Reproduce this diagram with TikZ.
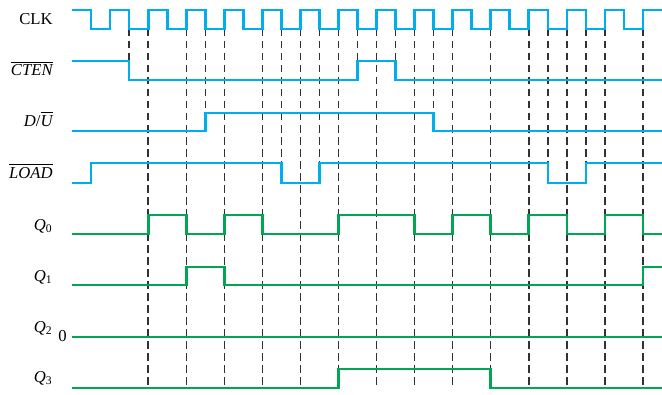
\documentclass[tikz,border=0pt]{standalone}
\usepackage{fontspec}
\setmainfont{Liberation Serif}
\usepackage{tikz}
\usetikzlibrary{calc}
\definecolor{sigblue}{RGB}{0,174,239}
\definecolor{siggreen}{RGB}{0,166,81}
\definecolor{tickgray}{RGB}{50,50,50}
\tikzset{
  ctrl/.style={sigblue, line width=1.65pt, line join=miter},
  cnt/.style={siggreen, line width=1.65pt, line join=miter},
  tick/.style={tickgray, line width=0.85pt, dash pattern=on 4.5pt off 2.7pt},
  lbl/.style={anchor=base east, inner sep=0pt, font=\fontsize{10}{12}\selectfont}
}

\begin{document}
\begin{tikzpicture}[x=11.421pt, y=0.6pt]
\useasboundingbox (-3.7825,0) rectangle (30.995,394);
% guides at the clock edges
\foreach \t in {4,6,...,30}
  \draw[tick] (\t,365) -- (\t,6);
\foreach \t/\lev in {3/333,15/333,17/333,7/281,19/281,11/231,13/231,25/231,27/231}
  \draw[tick] (\t,365) -- (\t,\lev);
% inputs
\draw[ctrl] (0,384) \foreach \k in {1,3,...,29} { -| (\k,365) -| (\k+1,384) } -- (31,384);
\draw[ctrl] (0,333) -| (3,314) -| (15,333) -| (17,314) -- (31,314);
\draw[ctrl] (0,263) -| (7,281) -| (19,263) -- (31,263);
\draw[ctrl] (0,211) -| (1,231) -| (11,211) -| (13,231) -| (25,211) -| (27,231) -- (31,231);
% outputs
\draw[cnt] (0,160) -| (4,179) -| (6,160) -| (8,179) -| (10,160) -| (14,179) -| (18,160)
  -| (20,179) -| (22,160) -| (24,179) -| (26,160) -| (28,179) -| (30,160) -- (31,160);
\draw[cnt] (0,109) -| (6,127) -| (8,109) -| (30,127) -- (31,127);
\draw[cnt] (0,57) -- (31,57);
\draw[cnt] (0,6) -| (14,25) -| (22,6) -- (31,6);
% signal names
\node[lbl] (clk) at (-1,369) {CLK};
\node[lbl] (cten) at (-1,318) {$\overline{\textit{CTEN}}$};
\node[lbl] (du) at (-1,268) {\textit{D}/$\overline{\textit{U}}$};
\node[lbl] (load) at (-1,216) {$\overline{\textit{LOAD}}$};
\node[lbl] (q0) at (-1,164) {\textit{Q}\textsubscript{0}};
\node[lbl] (q1) at (-1,113) {\textit{Q}\textsubscript{1}};
\node[lbl] (q2) at (-1,62) {\textit{Q}\textsubscript{2}};
\node[lbl] (q3) at (-1,12) {\textit{Q}\textsubscript{3}};
\node[lbl] (zero) at (-0.26,53) {0};
\end{tikzpicture}
\end{document}
